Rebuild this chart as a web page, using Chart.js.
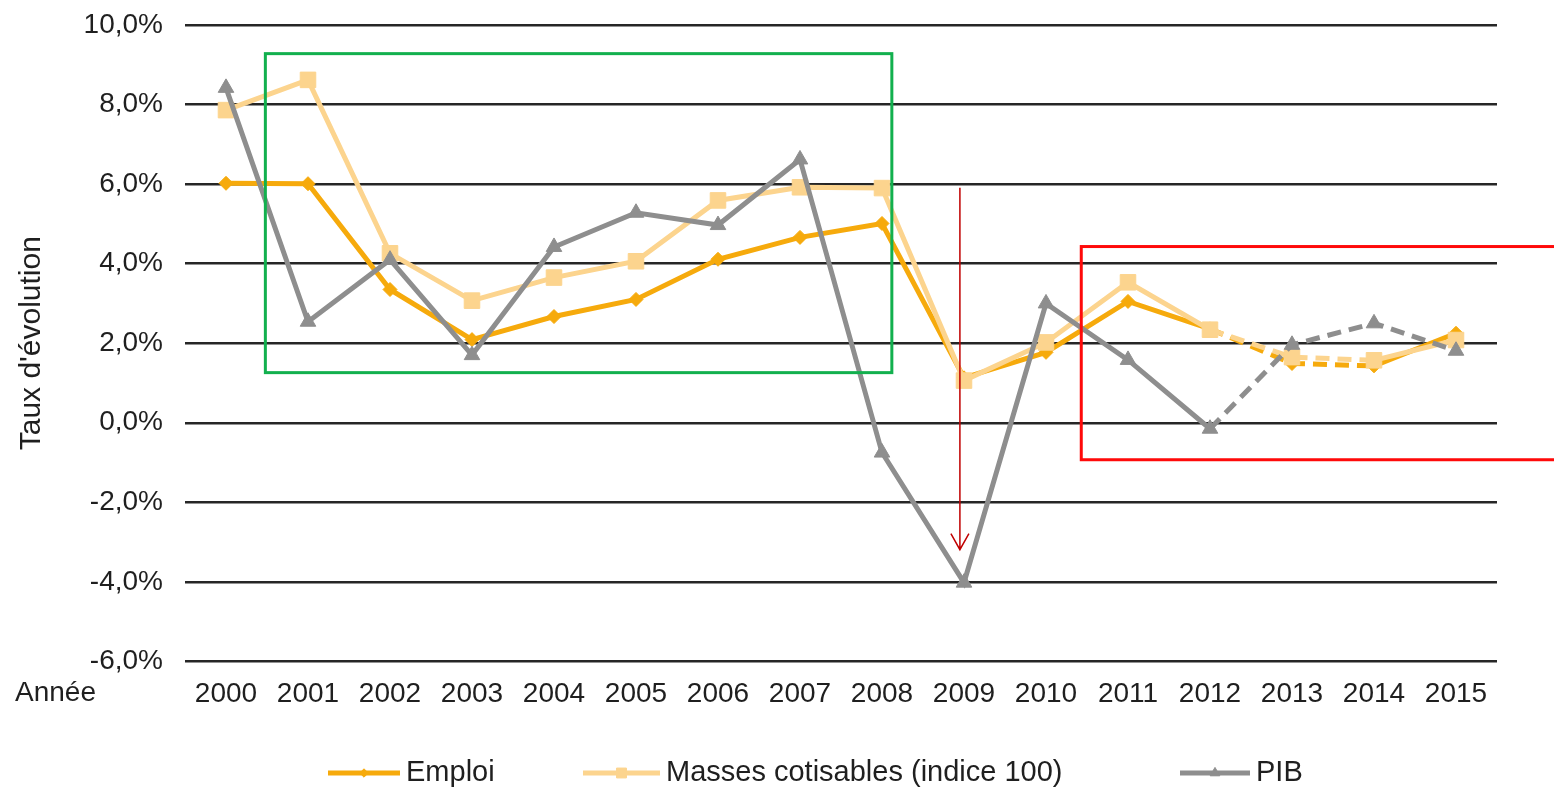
<!DOCTYPE html>
<html lang="fr">
<head>
<meta charset="utf-8">
<title>Taux d'évolution 2000-2015</title>
<script src="https://cdn.jsdelivr.net/npm/chart.js@4/dist/chart.umd.min.js"></script>
<style>
  html, body { margin: 0; padding: 0; background: #ffffff; }
  #wrap { width: 1554px; height: 792px; position: relative; }
</style>
</head>
<body>
<div id="wrap"><canvas id="chart" width="1554" height="792"></canvas></div>
<script>
// Années
const years = ['2000','2001','2002','2003','2004','2005','2006','2007','2008','2009','2010','2011','2012','2013','2014','2015'];

// Taux d'évolution annuels (%)
const emploi = [6.02, 6.01, 3.35, 2.09, 2.67, 3.10, 4.11, 4.66, 5.01, 1.13, 1.77, 3.05, 2.36, 1.49, 1.43, 2.25];
const massesCotisables = [7.86, 8.62, 4.26, 3.07, 3.65, 4.06, 5.59, 5.92, 5.90, 1.06, 2.02, 3.53, 2.34, 1.65, 1.57, 2.08];
const pib = [8.42, 2.54, 4.10, 1.70, 4.42, 5.28, 4.97, 6.62, -0.75, -4.02, 3.00, 1.58, -0.15, 1.96, 2.50, 1.81];

// Axe vertical
const yMin = -6;
const yMax = 10;
const yStep = 2;

// Segments en pointillés (premier et dernier index de départ) pour chaque série
const emploiDash = [12, 13];
const massesDash = [12, 13];
const pibDash = [12, 14];

// Encadrés et flèche, en unités de données (index d'année, %)
const greenBox = [0.48, 9.28, 8.12, 1.26];
const redBox = [10.43, 4.43, 16.6, -0.93];
const crisisArrow = [8.95, 5.91, -3.19];

const colEmploi = '#f6aa0c';
const colMasses = '#fcd48e';
const colPib = '#8e8e8e';
const textCol = '#1f1f1f';
const FONT = '"Liberation Sans", Arial, Helvetica, sans-serif';
const TICK_PAD = 8;

function dashed(range) {
  return ctx => (ctx.p0DataIndex >= range[0] && ctx.p0DataIndex <= range[1]) ? [14, 8] : undefined;
}

const fmt = v => v.toFixed(1).replace('.', ',') + '%';

// Encadrés, flèche, libellé "Année" et légende
const overlay = {
  id: 'overlay',
  afterDraw(chart) {
    const c = chart.ctx;
    const xs = chart.scales.x, ys = chart.scales.y;
    const px = v => xs.getPixelForValue(v);
    const py = v => ys.getPixelForValue(v);
    c.save();

    // encadré vert
    c.strokeStyle = '#12b04e';
    c.lineWidth = 3;
    c.strokeRect(px(greenBox[0]), py(greenBox[1]), px(greenBox[2]) - px(greenBox[0]), py(greenBox[3]) - py(greenBox[1]));

    // encadré rouge
    c.strokeStyle = '#ff0a0a';
    c.strokeRect(px(redBox[0]), py(redBox[1]), px(redBox[2]) - px(redBox[0]), py(redBox[3]) - py(redBox[1]));

    // flèche
    const ax = px(crisisArrow[0]), ay1 = py(crisisArrow[1]), ay2 = py(crisisArrow[2]);
    c.strokeStyle = '#c00000';
    c.lineWidth = 1.5;
    c.beginPath();
    c.moveTo(ax, ay1);
    c.lineTo(ax, ay2);
    c.moveTo(ax - 9, ay2 - 16);
    c.lineTo(ax, ay2);
    c.lineTo(ax + 9, ay2 - 16);
    c.stroke();

    // libellé de l'axe horizontal
    c.fillStyle = textCol;
    c.font = '28px ' + FONT;
    c.textBaseline = 'middle';
    c.textAlign = 'left';
    c.fillText('Année', 15, xs.top + TICK_PAD + 24);

    // légende
    c.font = '29px ' + FONT;
    const items = [
      { text: 'Emploi', color: colEmploi, style: 'rectRot', r: 6, x: 328, w: 72 },
      { text: 'Masses cotisables (indice 100)', color: colMasses, style: 'rect', r: 10, x: 583, w: 77 },
      { text: 'PIB', color: colPib, style: 'triangle', r: 8, x: 1180, w: 70 }
    ];
    const ly = 773;
    items.forEach(it => {
      c.strokeStyle = it.color;
      c.lineWidth = 5;
      c.beginPath();
      c.moveTo(it.x, ly);
      c.lineTo(it.x + it.w, ly);
      c.stroke();
      c.fillStyle = it.color;
      c.strokeStyle = it.color;
      c.lineWidth = 1;
      Chart.helpers.drawPoint(c, { pointStyle: it.style, radius: it.r * 0.7, borderWidth: 1, rotation: 0 }, it.x + it.w / 2, ly);
      c.fillStyle = textCol;
      c.fillText(it.text, it.x + it.w + 6, ly);
    });
    c.restore();
  }
};

const ds = (label, data, color, style, radius, dash, order) => ({
  label, data,
  borderColor: color,
  backgroundColor: color,
  borderWidth: 5,
  pointStyle: style,
  pointRadius: radius,
  pointHoverRadius: radius,
  pointBorderWidth: 1,
  pointBackgroundColor: color,
  pointBorderColor: color,
  tension: 0,
  order,
  segment: { borderDash: dashed(dash) }
});

new Chart(document.getElementById('chart'), {
  type: 'line',
  data: {
    labels: years,
    datasets: [
      ds('Emploi', emploi, colEmploi, 'rectRot', 7, emploiDash, 3),
      ds('Masses cotisables (indice 100)', massesCotisables, colMasses, 'rect', 11, massesDash, 2),
      ds('PIB', pib, colPib, 'triangle', 9, pibDash, 1)
    ]
  },
  options: {
    responsive: false,
    animation: false,
    layout: { padding: { top: 25, right: 57, bottom: 73, left: 0 } },
    plugins: {
      legend: { display: false },
      tooltip: { enabled: false }
    },
    scales: {
      x: {
        offset: true,
        grid: { display: false },
        border: { display: false },
        ticks: { font: { size: 28, family: FONT }, color: textCol, padding: TICK_PAD, maxRotation: 0, autoSkip: false }
      },
      y: {
        min: yMin,
        max: yMax,
        afterFit: s => { s.width = 185; s.paddingTop = 0; s.paddingBottom = 0; },
        border: { display: false },
        grid: { color: '#262626', lineWidth: 2.5, drawTicks: false },
        ticks: { stepSize: yStep, font: { size: 28, family: FONT }, color: textCol, padding: 22, callback: v => fmt(v) },
        title: {
          display: true,
          text: "Taux d'évolution",
          font: { size: 30, family: FONT },
          color: textCol,
          padding: { top: 14, bottom: 0 }
        }
      }
    }
  },
  plugins: [overlay]
});
</script>
</body>
</html>
